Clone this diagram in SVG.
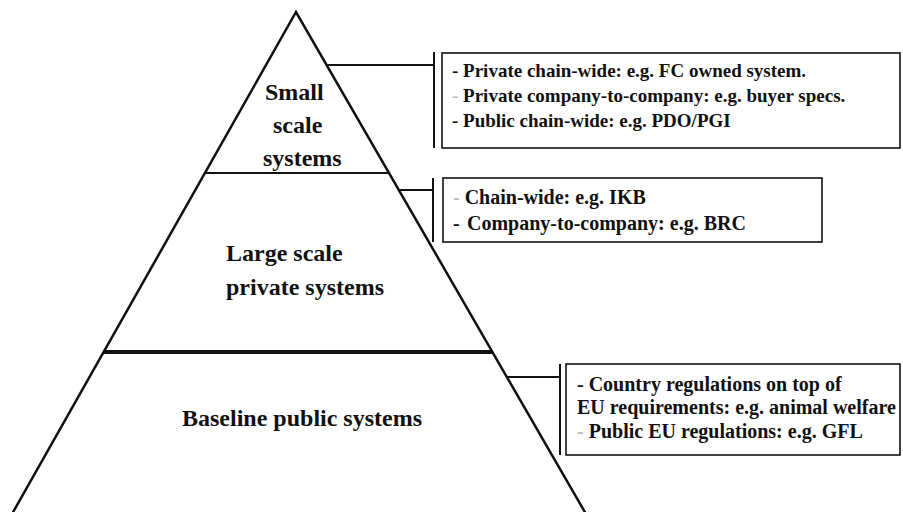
<svg xmlns="http://www.w3.org/2000/svg" width="903" height="512" viewBox="0 0 903 512">
<style>
.t{font-family:"Liberation Serif","Times New Roman",serif;font-weight:bold;fill:#111}
.big{font-size:24px}
.s19{font-size:19px}
.s20{font-size:20px}
.box{fill:#fff;stroke:#111;stroke-width:1.6}
.ln{stroke:#111;fill:none}
.faint{fill:#bbb}
</style>
<rect width="903" height="512" fill="#fff"/>
<g id="pyramid">
  <path class="ln" d="M12,514 L296,12 L586,514" stroke-width="2.5" stroke-linejoin="miter"/>
  <line class="ln" x1="205" y1="173" x2="389" y2="173" stroke-width="2"/>
  <line class="ln" x1="104" y1="352" x2="493" y2="352" stroke-width="4"/>
</g>
<g id="tier-small">
  <text class="t big" x="265" y="100">Small</text>
  <text class="t big" x="273" y="133">scale</text>
  <text class="t big" x="263" y="166">systems</text>
</g>
<g id="tier-large">
  <text class="t big" x="226" y="261">Large scale</text>
  <text class="t big" x="226" y="295">private systems</text>
</g>
<g id="tier-baseline">
  <text class="t big" x="182" y="426">Baseline public systems</text>
</g>
<g id="connectors">
  <path class="ln" d="M327,65 H434" stroke-width="2"/>
  <path class="ln" d="M434,52 V148" stroke-width="2"/>
  <path class="ln" d="M399,190 H433" stroke-width="2"/>
  <path class="ln" d="M433,178 V242" stroke-width="2"/>
  <path class="ln" d="M507,377 H560" stroke-width="2"/>
  <path class="ln" d="M560,364 V455" stroke-width="2"/>
</g>
<g id="box-small">
  <rect class="box" x="442" y="53" width="458" height="95"/>
  <text class="t s19" x="452" y="77">- Private chain-wide: e.g. FC owned system.</text>
  <text class="t s19" x="452" y="102"><tspan class="faint">-</tspan> Private company-to-company: e.g. buyer specs.</text>
  <text class="t s19" x="452" y="127">- Public chain-wide: e.g. PDO/PGI</text>
</g>
<g id="box-large">
  <rect class="box" x="443" y="178" width="379" height="64"/>
  <text class="t s20" x="453" y="204"><tspan class="faint">-</tspan> Chain-wide: e.g. IKB</text>
  <text class="t s20" x="453" y="230">-<tspan x="467">Company-to-company: e.g. BRC</tspan></text>
</g>
<g id="box-baseline">
  <rect class="box" x="566" y="364" width="334" height="91"/>
  <text class="t s20" x="577" y="391">- Country regulations on top of</text>
  <text class="t s20" x="577" y="414">EU requirements: e.g. animal welfare</text>
  <text class="t s20" x="577" y="438"><tspan class="faint">-</tspan> Public EU regulations: e.g. GFL</text>
</g>
</svg>
